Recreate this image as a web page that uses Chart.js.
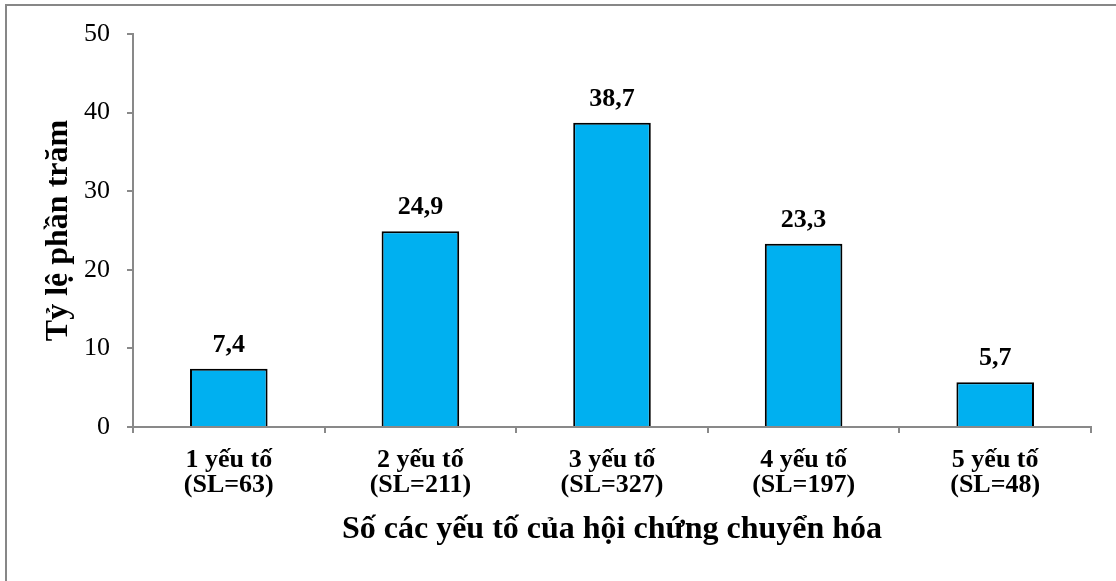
<!DOCTYPE html>
<html>
<head>
<meta charset="utf-8">
<script src="https://cdn.jsdelivr.net/npm/chart.js@4/dist/chart.umd.min.js"></script>
<style>
  html, body {
    margin: 0;
    padding: 0;
    background: #ffffff;
    overflow: hidden;
  }
  .chart-frame {
    position: absolute;
    left: 5px;
    top: 4px;
    width: 1200px;
    height: 700px;
    border-top: 2px solid #878787;
    border-left: 2px solid #878787;
  }
  #bar-chart {
    position: absolute;
    left: 0;
    top: 0;
  }
</style>
</head>
<body>
<div class="chart-frame"></div>
<canvas id="bar-chart" width="1116" height="581"></canvas>
<script>
const categories = [
  ["1 yếu tố", "(SL=63)"],
  ["2 yếu tố", "(SL=211)"],
  ["3 yếu tố", "(SL=327)"],
  ["4 yếu tố", "(SL=197)"],
  ["5 yếu tố", "(SL=48)"],
];
const percentages = [7.4, 24.9, 38.7, 23.3, 5.7];
const yTicks = [0, 10, 20, 30, 40, 50];

const xTitle = "Số các yếu tố của hội chứng chuyển hóa";
const yTitle = "Tỷ lệ phần trăm";

const fontFamily = "'Liberation Serif', 'Times New Roman', serif";
const axisColor = "#898989";

function formatValue(value) {
  return value.toFixed(1).replace(".", ",");
}

const valueLabelPlugin = {
  id: "valueLabels",
  afterDatasetsDraw(chart) {
    const { ctx } = chart;
    const meta = chart.getDatasetMeta(0);

    ctx.save();
    ctx.font = "bold 26px " + fontFamily;
    ctx.fillStyle = "#000000";
    ctx.textAlign = "center";
    ctx.textBaseline = "alphabetic";

    meta.data.forEach((bar, i) => {
      ctx.fillText(formatValue(percentages[i]), bar.x, bar.y - 17);
    });

    ctx.restore();
  },
};

function renderChart() {
  const canvas = document.getElementById("bar-chart");
  const ctx = canvas.getContext("2d");

  new Chart(ctx, {
    type: "bar",
    plugins: [valueLabelPlugin],
    data: {
      labels: categories,
      datasets: [
        {
          data: percentages,
          backgroundColor: "#00B0F0",
          borderColor: "#000000",
          borderWidth: 2,
          borderSkipped: "bottom",
          barPercentage: 0.405,
          categoryPercentage: 1,
        },
      ],
    },
    options: {
      responsive: false,
      animation: false,
      layout: {
        padding: { left: 0, top: 34, right: 25, bottom: 0 },
      },
      plugins: {
        legend: { display: false },
        tooltip: { enabled: false },
      },
      scales: {
        x: {
          afterFit: (scale) => {
            scale.height = 154;
          },
          grid: {
            display: true,
            drawOnChartArea: false,
            drawTicks: true,
            tickLength: 6,
            color: axisColor,
            lineWidth: 2,
            offset: true,
          },
          border: { display: true, color: axisColor, width: 2 },
          ticks: {
            color: "#000000",
            padding: 15,
            maxRotation: 0,
            autoSkip: false,
            font: { family: fontFamily, size: 26, weight: "bold", lineHeight: 0.96 },
          },
          title: {
            display: true,
            text: xTitle,
            color: "#000000",
            padding: { top: 0, bottom: 32 },
            font: { family: fontFamily, size: 32, weight: "bold", lineHeight: 1.2 },
          },
        },
        y: {
          min: 0,
          max: 50,
          afterFit: (scale) => {
            scale.width = 133;
          },
          afterBuildTicks: (scale) => {
            scale.ticks = yTicks.map((v) => ({ value: v }));
          },
          grid: {
            display: true,
            drawOnChartArea: false,
            drawTicks: true,
            tickLength: 6,
            color: axisColor,
            lineWidth: 2,
          },
          border: { display: true, color: axisColor, width: 2 },
          ticks: {
            color: "#000000",
            padding: 17,
            font: { family: fontFamily, size: 26 },
          },
          title: {
            display: true,
            text: yTitle,
            color: "#000000",
            padding: { top: 40, bottom: 0 },
            font: { family: fontFamily, size: 32, weight: "bold", lineHeight: 1.2 },
          },
        },
      },
    },
  });
}

renderChart();
</script>
</body>
</html>
